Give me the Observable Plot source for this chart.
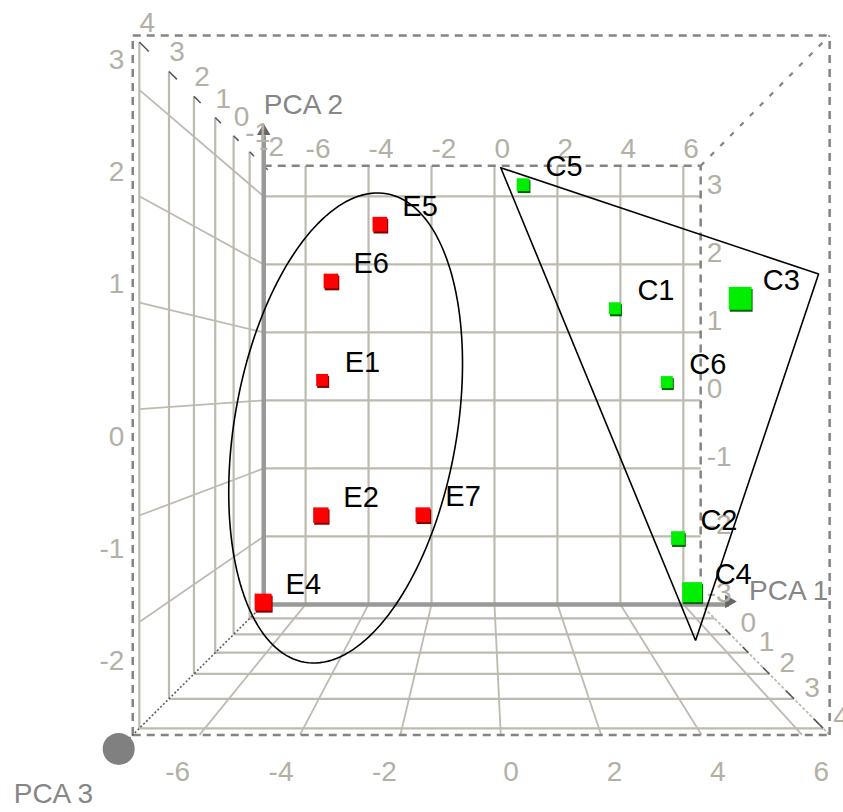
<!DOCTYPE html>
<html>
<head>
<meta charset="utf-8">
<script src="https://cdn.jsdelivr.net/npm/d3@7"></script>
<script src="https://cdn.jsdelivr.net/npm/@observablehq/plot@0.6"></script>
<style>
  html, body { margin: 0; padding: 0; background: #ffffff; }
  #chart svg { display: block; }
</style>
</head>
<body>
<div id="chart"></div>
<script>
// Sample scores on the first three principal components
const names = ["E1", "E2", "E4", "E5", "E6", "E7", "C1", "C2", "C3", "C4", "C5", "C6"];
const groups = ["E", "E", "E", "E", "E", "E", "C", "C", "C", "C", "C", "C"];
const pca1 = [-5.15, -4.63, -5.86, -3.13, -4.45, -1.97, 3.59, 5.10, 5.22, 4.50, 0.81, 5.14];
const pca2 = [0.29, -1.37, -2.30, 2.23, 1.52, -1.40, 1.28, -1.76, 1.09, -2.00, 2.90, 0.26];
const pca3 = [-1.0, 0.8, 1.5, 0.5, 0.5, 0.5, -1.0, 0.0, 3.3, 2.5, -0.5, -1.0];

// Axis ticks
const pc1Ticks = [-6, -4, -2, 0, 2, 4, 6];
const pc2Ticks = [-3, -2, -1, 0, 1, 2, 3];
const pc3Ticks = [-2, -1, 0, 1, 2, 3, 4];
const pc3FloorTicks = [0, 1, 2, 3, 4];

// Extent of the drawn box (PCA units)
const pc1Range = [-7.33, 6.55];
const pc2Range = [-3, 3.45];
const pc3Range = [-2, 4.2];
const axisEnds = {pc1: 7.45, pc2: 3.9, pc3: 4.6};
const labelDepth = 4.5;

// Group outlines, drawn in the front plane: ellipse around E, triangle around C
const ellipseCenter = [-3.09, -0.17];
const ellipseMajor = [0.817, 2.16];
const ellipseMinor = [2.18, -0.177];
const hullPc1 = [0.0, 6.33, 3.88];
const hullPc2 = [2.23, 1.25, -2.13];

// Perspective camera
const camera = {u0: -0.336, v0: 0.226, a: 0.027944, b: 0.0019113, aspect: 2.16};
const view = {width: 843, height: 812, cx: 483.4, cy: 384.55, unit: 31.48};

// depth factor: 1 on the back wall, growing towards the viewer
function depth(w) { return 1 / ((camera.a - camera.b * w) * view.unit); }
function proj(u, v, w) {
  const s = depth(w);
  return [(u - camera.u0) * s, (v - camera.v0) * s * camera.aspect];
}
function seg(a, b) {
  const p = proj(...a), q = proj(...b);
  return {x1: p[0], y1: p[1], x2: q[0], y2: q[1]};
}
function pt(u, v, w, extra = {}) {
  const p = proj(u, v, w);
  return {x: p[0], y: p[1], ...extra};
}

const [U0, U1] = pc1Range, [V0, V1] = pc2Range, [WB, WF] = pc3Range;
const lastW = d3.max(pc3Ticks);

// Back wall grid
const backGrid = [
  ...pc1Ticks.map(u => seg([u, V0, WB], [u, V1, WB])),
  ...pc2Ticks.filter(v => v > V0).map(v => seg([U0, v, WB], [U1, v, WB]))
];
// Left wall grid
const leftVert = pc3Ticks.filter(w => w > WB).map(w => seg([U0, V0, w], [U0, V1, w]));
const leftHoriz = pc2Ticks.filter(v => v > V0).map(v => seg([U0, v, WB], [U0, v, lastW]));
// Floor grid
const floorCross = pc3Ticks.filter(w => w > WB).map(w => seg([U0, V0, w], [U1, V0, w]));
const floorDepth = pc1Ticks.map(u => seg([u, V0, WB], [u, V0, WF]));
const floorEdge = [seg([U1, V0, WB], [U1, V0, WF])];

// Dashed box outline
const boxDashed = [
  seg([U0, V1, WF], [U1, V1, WF]),
  seg([U0, V0, WF], [U1, V0, WF]),
  seg([U0, V0, WF], [U0, V1, WF]),
  seg([U1, V0, WF], [U1, V1, WF]),
  seg([U0, V1, WB], [U1, V1, WB]),
  seg([U1, V0, WB], [U1, V1, WB])
];
const boxDiagonal = [seg([U1, V1, WB], [U1, V1, WF])];

// Depth tick marks along the box edges
const depthTicks = [
  ...pc3Ticks.map(w => seg([U0, V1, w], [U0, V1, w - 0.3])),
  ...pc3FloorTicks.map(w => seg([U1, V0, w], [U1, V0, w - 0.3]))
];

// Principal axes
const axisPc2 = [seg([U0, V0, WB], [U0, axisEnds.pc2, WB])];
const axisPc1 = [seg([U0, V0, WB], [axisEnds.pc1, V0, WB])];
const axisPc3 = [seg([U0, V0, WB], [U0, V0, axisEnds.pc3])];
const tipPc2 = [pt(U0, axisEnds.pc2, WB)];
const tipPc1 = [pt(axisEnds.pc1, V0, WB)];
const tipPc3 = [pt(U0, V0, axisEnds.pc3)];

// Tick labels
const topLabels = pc1Ticks.map(u => pt(u, V1, WB, {t: String(u)}));
const rightLabels = pc2Ticks.map(v => pt(U1, v, WB, {t: String(v)}));
const leftLabelsPos = pc2Ticks.filter(v => v > 0).map(v => pt(U0, v, labelDepth, {t: String(v)}));
const leftLabelsNeg = pc2Ticks.filter(v => v <= 0 && v > V0).map(v => pt(U0, v, labelDepth, {t: String(v)}));
const bottomLabelsNeg = pc1Ticks.filter(u => u < 0).map(u => pt(u, V0, labelDepth, {t: String(u)}));
const bottomLabelsPos = pc1Ticks.filter(u => u >= 0).map(u => pt(u, V0, labelDepth, {t: String(u)}));
const depthLabelsTop = pc3Ticks.map(w => pt(U0, V1, w, {t: String(w)}));
const depthLabelsFloor = pc3FloorTicks.map(w => pt(U1, V0, w, {t: String(w)}));

// Group outlines
const ellipsePath = d3.range(0, 361, 2).map(deg => {
  const t = deg * Math.PI / 180;
  const u = ellipseCenter[0] + Math.cos(t) * ellipseMajor[0] + Math.sin(t) * ellipseMinor[0];
  const v = ellipseCenter[1] + Math.cos(t) * ellipseMajor[1] + Math.sin(t) * ellipseMinor[1];
  return pt(u, v, WF);
});
const hullPath = [0, 1, 2, 0].map(i => pt(hullPc1[i], hullPc2[i], WF));

// Samples: square size follows depth
const samples = names.map((name, i) => {
  const [x, y] = proj(pca1[i], pca2[i], pca3[i]);
  const d = depth(pca3[i]);
  const half = 10.6 * d * d / 2 / view.unit;
  return {name, group: groups[i], x, y, half};
});
const fills = {E: "#ff0000", C: "#00ee00"};
const shades = {E: "#800000", C: "#006400"};

const gridColor = "#bdbaaf";
const labelColor = "#b3b0a5";
const dashColor = "#848484";
const font = "Liberation Sans, Arial, sans-serif";

const link = (data, o) => Plot.link(data, {x1: "x1", y1: "y1", x2: "x2", y2: "y2", ...o});
const label = (data, o) => Plot.text(data, {x: "x", y: "y", text: "t", fill: labelColor, fontSize: 28, ...o});
const squareBox = {
  x1: d => d.x - d.half, x2: d => d.x + d.half,
  y1: d => d.y - d.half, y2: d => d.y + d.half
};

const chart = Plot.plot({
  width: view.width,
  height: view.height,
  margin: 0,
  style: {fontFamily: font, background: "#ffffff"},
  x: {type: "linear", domain: [-view.cx / view.unit, (view.width - view.cx) / view.unit], range: [0, view.width], axis: null},
  y: {type: "linear", domain: [view.cy / view.unit, (view.cy - view.height) / view.unit], range: [0, view.height], axis: null},
  marks: [
    // grid
    link(floorDepth, {stroke: gridColor, strokeWidth: 1.8}),
    link(floorEdge, {stroke: gridColor, strokeWidth: 1.8, strokeDasharray: "3,2"}),
    link(floorCross, {stroke: gridColor, strokeWidth: 2.2}),
    link(leftHoriz, {stroke: gridColor, strokeWidth: 1.8}),
    link(leftVert, {stroke: gridColor, strokeWidth: 2.2}),
    link(backGrid, {stroke: gridColor, strokeWidth: 2.2}),
    // box outline
    link(boxDashed, {stroke: dashColor, strokeWidth: 2.5, strokeDasharray: "8,6"}),
    link(boxDiagonal, {stroke: dashColor, strokeWidth: 2.2, strokeDasharray: "5,9"}),
    link(depthTicks, {stroke: "#555555", strokeWidth: 1.5}),
    // axes
    link(axisPc3, {stroke: "#5e5e5e", strokeWidth: 1.6, strokeDasharray: "2,2"}),
    link(axisPc2, {stroke: "#999999", strokeWidth: 4.5}),
    link(axisPc1, {stroke: "#999999", strokeWidth: 4.5}),
    Plot.dot(tipPc2, {x: "x", y: "y", symbol: "triangle", r: 5, fill: "#666666", dy: -4}),
    Plot.dot(tipPc1, {x: "x", y: "y", symbol: "triangle", r: 5, fill: "#666666", rotate: 90, dy: -3}),
    Plot.dot(tipPc3, {x: "x", y: "y", r: 16, fill: "#808080"}),
    // tick labels
    label(topLabels, {textAnchor: "start", dy: -17}),
    label(rightLabels, {textAnchor: "start", dx: 6, dy: -11}),
    label(leftLabelsPos, {textAnchor: "end", dx: 2, dy: -15}),
    label(leftLabelsNeg, {textAnchor: "end", dx: 2, dy: 27}),
    label(bottomLabelsNeg, {textAnchor: "end", dx: -1, dy: 27}),
    label(bottomLabelsPos, {textAnchor: "start", dx: 2, dy: 27}),
    label(depthLabelsTop, {textAnchor: "middle", dx: 8, dy: -19}),
    label(depthLabelsFloor, {textAnchor: "middle", dx: 18, dy: -11}),
    // group outlines
    Plot.line(ellipsePath, {x: "x", y: "y", stroke: "#000000", strokeWidth: 1.6, curve: "linear"}),
    Plot.line(hullPath, {x: "x", y: "y", stroke: "#000000", strokeWidth: 1.6, strokeLinejoin: "miter"}),
    // samples
    Plot.rect(samples.filter(d => d.group === "E"), {...squareBox, fill: shades.E, dx: 1, dy: 2}),
    Plot.rect(samples.filter(d => d.group === "C"), {...squareBox, fill: shades.C, dx: 1, dy: 2}),
    Plot.rect(samples.filter(d => d.group === "E"), {...squareBox, fill: fills.E}),
    Plot.rect(samples.filter(d => d.group === "C"), {...squareBox, fill: fills.C}),
    Plot.text(samples, {x: "x", y: "y", text: "name", textAnchor: "start", dx: 22, dy: -18, fontSize: 29, fill: "#000000"}),
    // axis titles
    Plot.text(tipPc2, {x: "x", y: "y", text: () => "PCA 2", textAnchor: "start", dy: -30, fontSize: 28, fill: "#868686"}),
    Plot.text(tipPc1, {x: "x", y: "y", text: () => "PCA 1", textAnchor: "start", dx: 20, dy: -13, fontSize: 28, fill: "#868686"}),
    Plot.text(tipPc3, {x: "x", y: "y", text: () => "PCA 3", textAnchor: "start", dx: -105, dy: 45, fontSize: 28, fill: "#868686"})
  ]
});
document.getElementById("chart").appendChild(chart);
</script>
</body>
</html>
